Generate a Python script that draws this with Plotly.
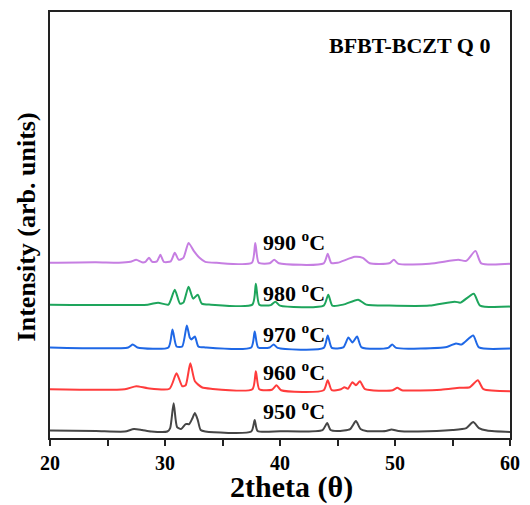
import plotly.graph_objects as go

# ---- data ----
labels = ["950 <sup>o</sup>C", "960 <sup>o</sup>C", "970 <sup>o</sup>C", "980 <sup>o</sup>C", "990 <sup>o</sup>C"]
colors = ["#464646", "#ff3c3c", "#1f68e6", "#1ea55c", "#c67ee2"]
offsets = [6, 49, 91, 134, 176]
label_y = [28, 67, 106, 147, 198]

tt_950 = [20, 24, 26.5, 27.3, 28, 28.8, 30.2, 30.45, 30.75, 31.05, 31.4, 31.8, 32.1, 32.35, 32.6, 32.85, 33.1, 33.5,
          37.5, 37.8, 38.05, 40, 43.7, 44.1, 44.4, 45, 46.1, 46.6, 47.0, 47.5, 49.2, 49.7, 50.3, 52, 55, 56.2, 56.8, 57.3, 58, 60]
in_950 = [1.5, 1, 0.5, 3, 2, 0.5, 0.5, 4, 29, 5, 3, 8, 8, 13, 19, 12, 2, 0.5,
          0.5, 12, 1, 0.8, 2, 9, 2, 1, 3, 11, 3, 1, 1, 2.5, 1, 0.5, 2, 4, 10, 4, 1.5, 0]

tt_960 = [20, 26.5, 27.5, 28.5, 30.4, 31.0, 31.5, 31.8, 32.2, 32.6, 33.2, 34, 37.6, 37.9, 38.2, 39.3, 39.7, 40.1,
          43.8, 44.15, 44.5, 45.3, 45.6, 45.9, 46.3, 46.6, 46.95, 47.4, 49.8, 50.2, 50.6, 54, 55.6, 56.5, 57.2, 57.7, 60]
in_960 = [0, 0, 3, 1, 0.5, 16, 3, 4, 26, 8, 2, 0.5, 0, 18, 0, -0.5, 4, -1,
          -1, 9, -1, 0, 2, 0.5, 7, 4, 8, 0, -1, 1.5, -1, -0.5, 1.5, 2, 9, 0, -2]

tt_970 = [20, 26.8, 27.2, 27.6, 30.3, 30.65, 31.0, 31.5, 31.9, 32.15, 32.3, 32.6, 32.9, 33.5, 37.5, 37.8, 38.1,
          39.1, 39.45, 39.8, 43.8, 44.15, 44.5, 45.5, 45.95, 46.3, 46.7, 47.1, 49.4, 49.75, 50.1, 54.5, 55.3, 55.8, 56.8, 57.3, 60]
in_970 = [0, 0, 3, 0, 0, 18, 1, 1, 22, 10, 8, 11, 1, 0, 0, 16, 0,
          0, 3, -0.5, -0.5, 12, -0.5, 0, 10, 5, 11, 0, -0.5, 3, -0.5, 0.5, 4, 3, 12, 0, -1]

tt_980 = [20, 28.5, 29.4, 30.3, 30.85, 31.3, 31.6, 32.05, 32.45, 32.85, 33.2, 34, 37.6, 37.9, 38.2, 39.2, 39.6, 40.0,
          43.8, 44.2, 44.55, 45.5, 46.8, 47.5, 49.5, 53, 55.2, 55.7, 56.85, 57.4, 60]
in_980 = [0, 0, 2, 0, 15, 1, 2, 18, 6, 10, 1, 0, 0, 21, 0, -0.5, 3, -1,
          -1, 10, -1, 0, 5, 0, -1, -1, 3, 2, 11, -1, -2]

tt_990 = [20, 24, 26, 27.0, 27.5, 28.0, 28.3, 28.6, 28.9, 29.3, 29.6, 29.9, 30.5, 30.85, 31.2, 31.6, 32.05, 32.5, 33.0, 33.5, 34.5,
          37.55, 37.85, 38.15, 39.1, 39.5, 39.9, 43.8, 44.15, 44.45, 45.0, 46.5, 47.2, 47.8, 49.5, 49.9, 50.3, 53, 55.5, 56.2, 57.0, 57.5, 60]
in_990 = [0, 0.5, 0, 1, 3, 0.5, 1, 5, 1, 1.5, 8, 1, 1.5, 10, 3, 5, 20, 12, 5, 1, 0,
          0, 20, 0, -0.5, 3, -0.5, -0.5, 9, 0, 0, 6, 5, -0.5, -0.5, 3, -1, -1, 3, 2, 12, -0.5, -1]

x_ticks = [20, 30, 40, 50, 60]

series_x = [tt_950, tt_960, tt_970, tt_980, tt_990]
series_y = [in_950, in_960, in_970, in_980, in_990]

SERIF = "Liberation Serif, Times New Roman, serif"

fig = go.Figure()
for xs, ys, off, col in zip(series_x, series_y, offsets, colors):
    fig.add_trace(go.Scatter(
        x=xs, y=[v + off for v in ys], mode="lines",
        line=dict(color=col, width=2, shape="spline", smoothing=0.6),
        showlegend=False, hoverinfo="skip"))

for lab, ly in zip(labels, label_y):
    fig.add_annotation(x=41.2, y=ly, xref="x", yref="y", text=lab, showarrow=False,
                       font=dict(family=SERIF, size=22, color="black", weight="bold"),
                       xanchor="center", yanchor="middle")

fig.add_annotation(x=(416 - 50) / 468, y=(438 - 43.5) / 428, xref="paper", yref="paper",
                   text="BFBT-BCZT Q 0", showarrow=False,
                   font=dict(family=SERIF, size=22, color="black", weight="bold"),
                   xanchor="center", yanchor="middle")

fig.update_layout(
    width=530, height=505,
    margin=dict(l=50, r=12, t=10, b=67),
    paper_bgcolor="white", plot_bgcolor="white",
    font=dict(family=SERIF, color="black"),
)

fig.update_xaxes(
    range=[20, 60], tickvals=x_ticks, ticktext=[str(v) for v in x_ticks],
    ticks="outside", ticklen=6, tickwidth=2, tickcolor="#222",
    minor=dict(dtick=5, tick0=20, ticks="outside", ticklen=6, tickwidth=2, tickcolor="#222"),
    showline=True, mirror=True, linecolor="#222", linewidth=2,
    showgrid=False, zeroline=False,
    tickfont=dict(family=SERIF, size=20, color="black", weight="bold"),
)
fig.update_yaxes(
    range=[0, 428], showticklabels=False, ticks="",
    showline=True, mirror=True, linecolor="#222", linewidth=2,
    showgrid=False, zeroline=False,
)

fig.add_annotation(x=(296 - 50) / 468, y=-(487 - 438) / 428, xref="paper", yref="paper",
                   text="2theta (θ)", showarrow=False,
                   font=dict(family=SERIF, size=30, color="black", weight="bold"),
                   xanchor="center", yanchor="middle")
fig.add_annotation(x=-(50 - 27) / 468, y=(438 - 226) / 428, xref="paper", yref="paper",
                   text="Intensity (arb. units)", showarrow=False, textangle=-90,
                   font=dict(family=SERIF, size=26, color="black", weight="bold"),
                   xanchor="center", yanchor="middle")

fig.write_html("out.html")
